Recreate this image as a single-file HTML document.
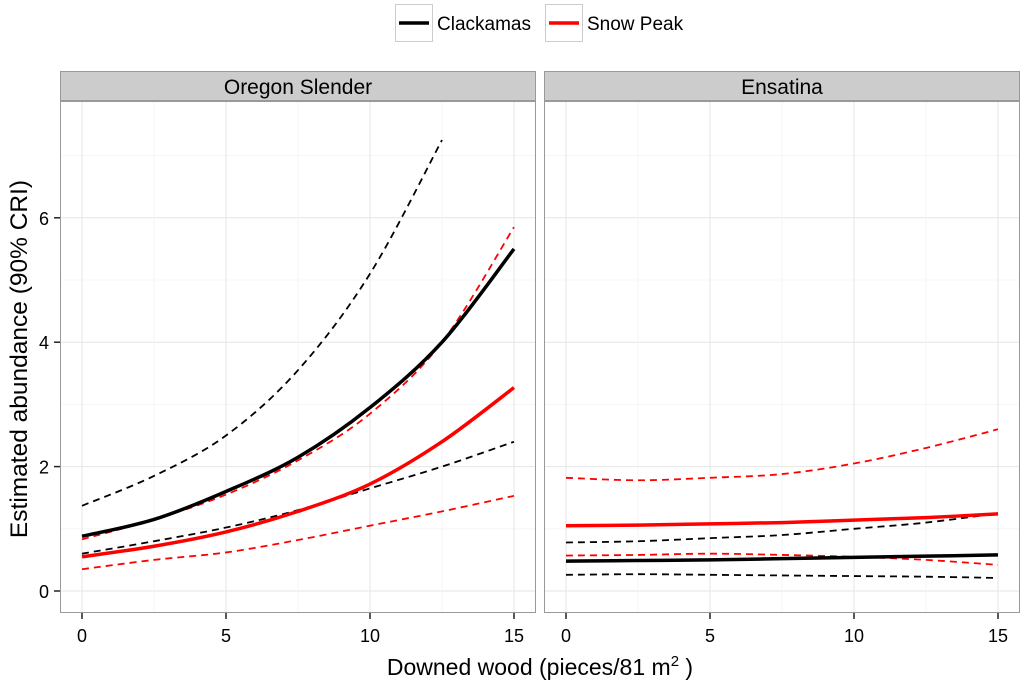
<!DOCTYPE html>
<html><head><meta charset="utf-8"><style>
body{margin:0;background:#fff;font-family:"Liberation Sans",sans-serif;}
</style></head><body>
<svg id="chart" width="1024" height="683" xmlns="http://www.w3.org/2000/svg" font-family="Liberation Sans, sans-serif">
<g>
 <g>
  <rect x="395.5" y="4.5" width="37" height="37" fill="#fff" stroke="#ccc"/>
  <line x1="399" y1="23" x2="429" y2="23" stroke="#000" stroke-width="3.5"/>
  <text x="437" y="30" font-size="19">Clackamas</text>
 </g>
 <g>
  <rect x="545.5" y="4.5" width="37" height="37" fill="#fff" stroke="#ccc"/>
  <line x1="549" y1="23" x2="579" y2="23" stroke="#f00" stroke-width="3.5"/>
  <text x="587" y="30" font-size="19">Snow Peak</text>
 </g>
</g>
<g id="panels"></g>
<text x="540" y="675" text-anchor="middle" font-size="23">Downed wood (pieces/81 m<tspan dy="-9" font-size="15">2</tspan><tspan dy="9"> )</tspan></text>
<text transform="translate(27,359) rotate(-90)" text-anchor="middle" font-size="24.5">Estimated abundance (90% CRI)</text>
</svg>
<script>
const xVals=[0,2.5,5,7.5,10,12.5,15];
const panelNames=["Oregon Slender","Ensatina"];
const xTicks=[0,5,10,15];
const yTicks=[0,2,4,6];
// Oregon Slender
const osClackMean=[0.88,1.15,1.6,2.15,2.95,4.0,5.5];
const osClackUpper=[1.37,1.85,2.5,3.55,5.1,7.25,null];
const osClackLower=[0.6,0.8,1.02,1.3,1.65,2.0,2.4];
const osSnowMean=[0.55,0.72,0.95,1.28,1.72,2.4,3.27];
const osSnowUpper=[0.83,1.15,1.55,2.1,2.85,4.0,5.85];
const osSnowLower=[0.35,0.5,0.62,0.82,1.05,1.28,1.53];
// Ensatina
const enClackMean=[0.48,0.49,0.5,0.52,0.54,0.56,0.58];
const enClackUpper=[0.78,0.8,0.85,0.9,1.0,1.1,1.25];
const enClackLower=[0.26,0.27,0.26,0.25,0.24,0.23,0.21];
const enSnowMean=[1.05,1.06,1.08,1.1,1.14,1.18,1.24];
const enSnowUpper=[1.82,1.78,1.82,1.88,2.05,2.3,2.6];
const enSnowLower=[0.57,0.58,0.6,0.58,0.55,0.5,0.42];

const NS="http://www.w3.org/2000/svg";
const g=document.getElementById('panels');
function el(t,a,p){const e=document.createElementNS(NS,t);for(const k in a)e.setAttribute(k,a[k]);(p||g).appendChild(e);return e;}
const yTop=101,yBot=613;
function ys(v){return 591-v*62.2;}
const panels=[
 {x0:60,x1:536,series:[[osClackUpper,'#000',1],[osClackLower,'#000',1],[osSnowUpper,'#f00',1],[osSnowLower,'#f00',1],[osSnowMean,'#f00',0],[osClackMean,'#000',0]]},
 {x0:544,x1:1020,series:[[enClackUpper,'#000',1],[enClackLower,'#000',1],[enSnowUpper,'#f00',1],[enSnowLower,'#f00',1],[enSnowMean,'#f00',0],[enClackMean,'#000',0]]}
];
function smooth(pts){
 let d='M'+pts[0][0]+','+pts[0][1];
 for(let i=0;i<pts.length-1;i++){
  const p0=pts[i-1]||pts[i],p1=pts[i],p2=pts[i+1],p3=pts[i+2]||p2;
  const c1=[p1[0]+(p2[0]-p0[0])/6,p1[1]+(p2[1]-p0[1])/6];
  const c2=[p2[0]-(p3[0]-p1[0])/6,p2[1]-(p3[1]-p1[1])/6];
  d+=' C'+c1+' '+c2+' '+p2;
 }
 return d;
}
panels.forEach((P,pi)=>{
 const xs=v=>P.x0+22+v*(P.x1-P.x0-44)/15;
 const pg=el('g',{});
 
 
 const st=el('rect',{x:P.x0+0.5,y:71.5,width:P.x1-P.x0-1,height:29,fill:'#ccc',stroke:'#999'},pg);
 
 
 const stt=el('text',{x:(P.x0+P.x1)/2,y:94,'text-anchor':'middle','font-size':21},pg);
 stt.textContent=panelNames[pi];
 
 
 el('rect',{x:P.x0+0.5,y:yTop+0.5,width:P.x1-P.x0-1,height:yBot-yTop-1,fill:'#fff',stroke:'#999'},pg);
 for(let v=0;v<=8;v++){const y=ys(v);if(y<yTop)continue;el('line',{x1:P.x0+1,x2:P.x1-1,y1:y,y2:y,stroke:v%2?'#f4f4f4':'#e6e6e6','stroke-width':v%2?0.8:1},pg);}
 for(let v=0;v<=15;v+=2.5){const x=xs(v);el('line',{x1:x,x2:x,y1:yTop+1,y2:yBot-1,stroke:v%5?'#f4f4f4':'#e6e6e6','stroke-width':v%5?0.8:1},pg);}
 xTicks.forEach(t=>{const x=xs(t);el('line',{x1:x,x2:x,y1:yBot,y2:yBot+6,stroke:'#222','stroke-width':1.5},pg);
  const tx=el('text',{x:x,y:yBot+29,'text-anchor':'middle','font-size':18},pg);tx.textContent=t;
  
  });
 if(pi===0)yTicks.forEach(t=>{const y=ys(t);el('line',{x1:P.x0-6,x2:P.x0,y1:y,y2:y,stroke:'#222','stroke-width':1.5},pg);
  const tx=el('text',{x:P.x0-11,y:y+7,'text-anchor':'end','font-size':18},pg);tx.textContent=t;
  
  });
 P.series.forEach(([arr,col,dash])=>{
  const pts=[];arr.forEach((v,i)=>{if(v!=null)pts.push([xs(xVals[i]),ys(v)]);});
  const p=el('path',{d:smooth(pts),fill:'none',stroke:col,'stroke-width':dash?1.8:3.5,'stroke-dasharray':dash?'7,5':'none'},pg);
  
  
 });
});
</script>
</body></html>
